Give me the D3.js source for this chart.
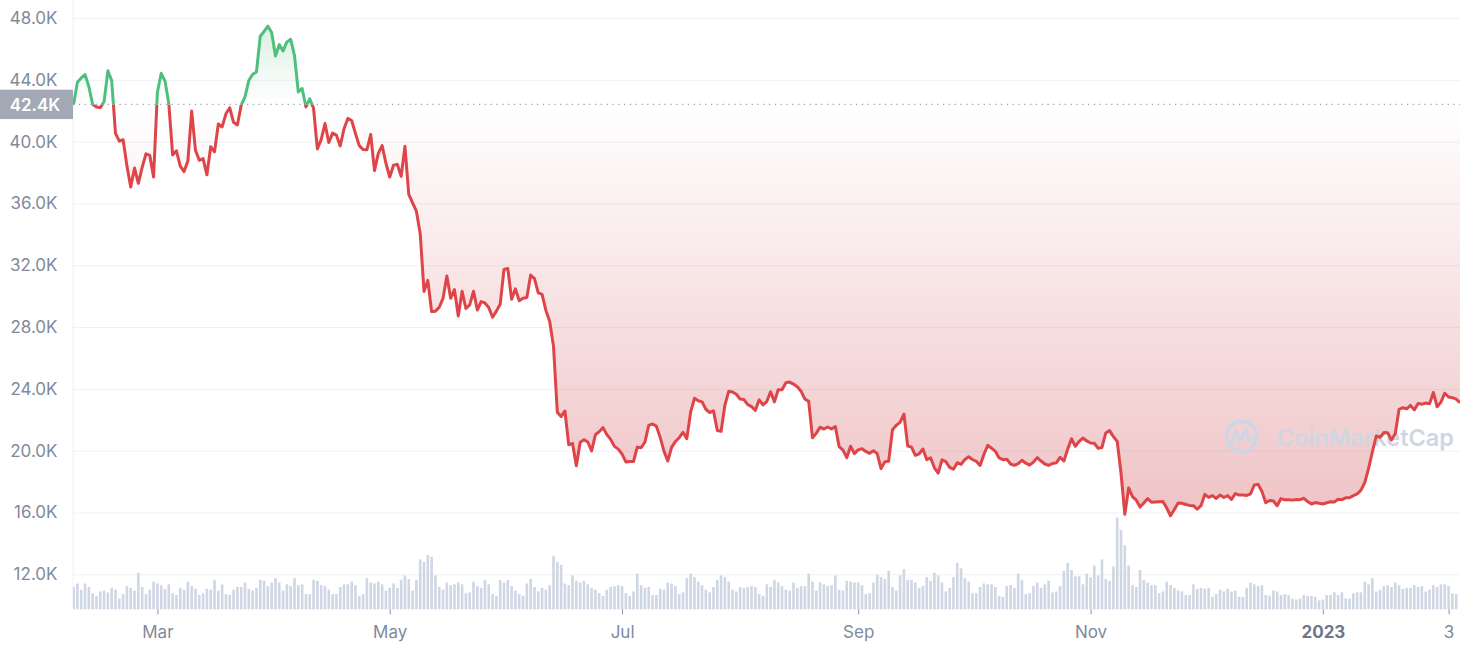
<!DOCTYPE html>
<html><head><meta charset="utf-8">
<script src="https://cdn.jsdelivr.net/npm/d3@7"></script>
<style>
html,body{margin:0;padding:0;background:#fff;}
svg{display:block;font-family:Inter,"Noto Sans",sans-serif;}
</style></head><body>
<svg id="chart" width="1460" height="650"></svg>
<script>
// ---------- DATA (BTC daily close in USD thousands, daily volume in USD billions) ----------
const startDate = "2022-02-06"; // date of first daily value
const priceFeb22 = [42.41,43.84,44.12,44.34,43.57,42.41,42.24,42.20,42.59,44.58,43.96,40.54,40.03,40.12,38.43,37.07,38.29,37.30,38.33,39.21,39.11,37.71,43.19];
const priceMar22 = [44.42,43.92,42.45,39.14,39.40,38.42,38.06,38.74,41.98,39.44,38.79,38.90,37.85,39.67,39.34,41.14,40.95,41.80,42.19,41.25,41.08,42.36,42.89,43.96,44.35,44.50,46.82,47.13,47.47,47.06,45.54];
const priceApr22 = [46.28,45.87,46.45,46.62,45.56,43.21,43.44,42.25,42.77,42.16,39.53,40.13,41.17,39.94,40.55,40.42,39.72,40.83,41.50,41.37,40.53,39.74,39.49,39.47,40.46,38.12,39.24,39.74,38.60,37.71];
const priceMay22 = [38.47,38.53,37.75,39.70,36.58,36.04,35.50,34.06,30.30,31.02,29.00,29.03,29.28,29.86,31.30,29.86,30.42,28.72,30.31,29.20,29.43,30.32,29.10,29.65,29.56,29.27,28.63,29.03,29.47,31.73,31.79];
const priceJun22 = [29.80,30.47,29.70,29.86,29.91,31.37,31.13,30.21,30.11,29.08,28.36,26.76,22.49,22.21,22.57,20.38,20.47,19.02,20.55,20.71,20.56,19.99,21.03,21.23,21.49,21.04,20.73,20.28,20.10,19.78];
const priceJul22 = [19.27,19.30,19.30,20.23,20.19,20.55,21.64,21.73,21.59,20.86,19.97,19.33,20.21,20.59,20.84,21.19,20.78,22.49,23.39,23.23,23.16,22.68,22.47,22.58,21.31,21.25,22.95,23.84,23.80,23.65,23.34];
const priceAug22 = [23.31,22.98,22.85,22.61,23.29,22.96,23.18,23.81,23.16,23.95,23.94,24.40,24.44,24.31,24.14,23.85,23.34,23.19,20.83,21.14,21.52,21.40,21.53,21.40,21.56,20.26,20.04,19.55,20.29,19.81,20.05];
const priceSep22 = [20.13,19.95,19.83,20.00,19.80,18.84,19.29,19.32,21.36,21.65,21.83,22.37,20.30,20.23,19.70,19.80,20.11,19.42,19.54,18.89,18.55,19.41,19.29,18.92,18.80,19.22,19.11,19.43,19.60,19.43];
const priceOct22 = [19.31,19.04,19.75,20.34,20.16,19.96,19.53,19.42,19.45,19.14,19.05,19.16,19.38,19.19,19.07,19.26,19.55,19.33,19.14,19.05,19.17,19.21,19.57,19.33,20.10,20.77,20.29,20.60,20.82,20.63,20.50];
const priceNov22 = [20.48,20.15,20.21,21.15,21.30,20.91,20.60,18.54,15.88,17.59,17.03,16.80,16.35,16.62,16.90,16.66,16.68,16.70,16.71,16.29,15.79,16.19,16.61,16.60,16.52,16.46,16.44,16.22,16.44,17.17];
const priceDec22 = [16.98,17.09,16.91,17.13,16.97,17.09,16.84,17.22,17.13,17.13,17.10,17.21,17.78,17.82,17.36,16.63,16.78,16.74,16.44,16.90,16.82,16.83,16.80,16.84,16.83,16.92,16.71,16.55,16.64,16.60,16.55];
const priceJan23 = [16.63,16.69,16.68,16.85,16.83,16.95,16.95,17.09,17.20,17.45,17.94,18.85,19.93,20.95,20.87,21.17,21.16,20.69,21.09,22.68,22.78,22.71,22.93,22.64,23.06,23.01,23.08,23.03,23.77,22.84,23.14];
const priceFeb23 = [23.72,23.47,23.43,23.33,23.10];

const volFeb22 = [16,25,29,22,29,25,18,15,20,21,19,24,22,12,17,26,24,21,41,25,17,22,31];
const volMar22 = [29,27,23,28,18,16,24,22,31,26,23,16,18,23,22,33,21,28,17,16,22,25,25,30,23,21,24,33,32,26,30];
const volApr22 = [35,30,21,28,26,35,27,28,17,17,33,32,27,26,22,17,17,25,28,28,31,27,15,17,35,30,29,31,28,21];
const volMay22 = [24,29,24,33,38,34,21,33,56,53,61,59,38,25,22,30,27,28,30,28,18,19,31,26,24,33,28,17,15,33,30];
const volJun22 = [33,26,21,17,15,29,34,25,20,24,22,27,60,53,50,29,27,38,32,30,32,28,24,22,18,15,22,25,26,27];
const volJul22 = [26,18,15,20,40,27,24,25,16,16,23,22,30,29,26,17,19,35,40,36,31,27,22,19,25,33,38,36,31,22,20];
const volAug22 = [25,24,25,26,25,17,15,28,25,33,30,26,22,21,30,24,26,26,40,31,21,30,28,26,27,38,22,21,32,31,30];
const volSep22 = [30,27,17,18,30,39,36,34,43,25,21,38,45,33,33,30,24,26,36,32,41,38,30,20,24,36,52,46,35,31];
const volOct22 = [18,18,25,29,28,28,25,15,14,26,27,24,40,33,17,18,26,30,24,28,32,19,20,26,43,52,44,37,37,28,40];
const volNov22 = [36,49,38,56,34,32,48,103,89,72,49,27,25,44,33,30,27,27,18,20,31,27,24,21,20,16,16,28,23,24];
const volDec22 = [23,24,14,17,22,20,23,20,21,14,14,24,30,28,26,27,16,15,21,20,16,17,16,12,11,12,16,15,15,14,10];
const volJan23 = [11,16,16,19,16,19,12,12,18,19,19,31,28,35,20,22,26,27,25,30,27,23,24,24,27,25,26,20,22,27,25];
const volFeb23 = [28,28,26,18,17];

const yTicks = [12,16,20,24,28,32,36,40,44,48];
const xTickDates = ["2022-03-01","2022-05-01","2022-07-01","2022-09-01","2022-11-01","2023-01-01","2023-02-03"];
const xTickLabels = ["Mar","May","Jul","Sep","Nov","2023","3"];
const watermark = "CoinMarketCap";

// ---------- BUILD ----------
const prices = [].concat(priceFeb22,priceMar22,priceApr22,priceMay22,priceJun22,priceJul22,priceAug22,priceSep22,priceOct22,priceNov22,priceDec22,priceJan23,priceFeb23);
const volumes = [].concat(volFeb22,volMar22,volApr22,volMay22,volJun22,volJul22,volAug22,volSep22,volOct22,volNov22,volDec22,volJan23,volFeb23);
const parse = d3.timeParse("%Y-%m-%d");
const start = parse(startDate);
// close value plotted at end of its day, volume bar at start of its day
const priceData = prices.map((v,i)=>({date:d3.timeDay.offset(start,i+1), v}));
const volData = volumes.map((v,i)=>({date:d3.timeDay.offset(start,i), v}));

const L = 73.6, R = 1460, VB = 609.3;
const x = d3.scaleTime().domain([priceData[0].date, priceData[priceData.length-1].date]).range([L, R]);
const y = d3.scaleLinear().domain([9.735, 49.165]).range([VB, 0]);
const yVol = d3.scaleLinear().domain([0, 120]).range([VB, VB-107]);

const svg = d3.select("#chart");
const defs = svg.append("defs");
const yBase = y(prices[0]);
defs.append("clipPath").attr("id","plotClip").append("rect").attr("x",73).attr("y",0).attr("width",R-73).attr("height",650);
defs.append("clipPath").attr("id","aboveClip").append("rect").attr("x",73).attr("y",0).attr("width",R-73).attr("height",yBase);
defs.append("clipPath").attr("id","belowClip").append("rect").attr("x",73).attr("y",yBase).attr("width",R-73).attr("height",650-yBase);

const gRed = defs.append("linearGradient").attr("id","gRed").attr("gradientUnits","userSpaceOnUse")
  .attr("x1",0).attr("x2",0).attr("y1",yBase).attr("y2",y(d3.min(prices)));
gRed.append("stop").attr("offset",0).attr("stop-color","#ca373e").attr("stop-opacity",0.0);
gRed.append("stop").attr("offset",1).attr("stop-color","#ca373e").attr("stop-opacity",0.3);
const gGreen = defs.append("linearGradient").attr("id","gGreen").attr("gradientUnits","userSpaceOnUse")
  .attr("x1",0).attr("x2",0).attr("y1",y(d3.max(prices))).attr("y2",yBase);
gGreen.append("stop").attr("offset",0).attr("stop-color","#5abe82").attr("stop-opacity",0.22);
gGreen.append("stop").attr("offset",1).attr("stop-color","#5abe82").attr("stop-opacity",0.0);

// Y axis with gridlines
const yAxis = d3.axisLeft(y).tickValues(yTicks).tickFormat(d=>d.toFixed(1)+"K").tickSize(-(R-73)).tickPadding(15.5);
const gy = svg.append("g").attr("transform","translate(73,0)").call(yAxis);
gy.select(".domain").remove();
gy.selectAll(".tick line").attr("stroke","#eff1f5").attr("stroke-width",1);
gy.selectAll(".tick text").attr("fill","#808a9d").attr("font-size",17).attr("font-family","Inter, sans-serif");
svg.append("line").attr("x1",73).attr("x2",73).attr("y1",0).attr("y2",VB).attr("stroke","#eff1f5");

// volume bars
svg.append("g").attr("clip-path","url(#plotClip)").selectAll("rect").data(volData).join("rect")
  .attr("x",d=>x(d.date)-1.3).attr("width",2.6)
  .attr("y",d=>yVol(d.v)).attr("height",d=>VB-yVol(d.v))
  .attr("fill","#cfd6e4");

// areas
const area = d3.area().x(d=>x(d.date)).y0(yBase).y1(d=>y(d.v));
svg.append("path").datum(priceData).attr("d",area).attr("fill","url(#gRed)").attr("clip-path","url(#belowClip)");
svg.append("path").datum(priceData).attr("d",area).attr("fill","url(#gGreen)").attr("clip-path","url(#aboveClip)");

// watermark
const wm = svg.append("g");
wm.append("circle").attr("cx",1241.5).attr("cy",436.5).attr("r",15).attr("fill","none").attr("stroke","#cfd6e3").attr("stroke-width",3.8);
wm.append("path").attr("d","M1231.5,443 L1236,430.5 L1240.5,441 L1245.5,429.5 L1249,440 L1253,438")
  .attr("fill","none").attr("stroke","#cfd6e3").attr("stroke-width",3.6).attr("stroke-linejoin","round").attr("stroke-linecap","round");
wm.append("text").attr("x",1454).attr("y",445.5).attr("text-anchor","end").attr("font-size",23.5).attr("font-weight",600)
  .attr("fill","#cfd6e3").text(watermark);

// baseline dotted
svg.append("line").attr("x1",73).attr("x2",R).attr("y1",yBase).attr("y2",yBase)
  .attr("stroke","#9aa3b5").attr("stroke-width",1.3).attr("stroke-dasharray","1.3,4.5");

// price line
const line = d3.line().x(d=>x(d.date)).y(d=>y(d.v));
svg.append("path").datum(priceData).attr("d",line).attr("fill","none").attr("stroke","#de4448")
  .attr("stroke-width",3).attr("stroke-linejoin","round").attr("clip-path","url(#belowClip)");
svg.append("path").datum(priceData).attr("d",line).attr("fill","none").attr("stroke","#4fbf7e")
  .attr("stroke-width",3).attr("stroke-linejoin","round").attr("clip-path","url(#aboveClip)");

// x axis
const xAxis = d3.axisBottom(x).tickValues(xTickDates.map(parse)).tickFormat((d,i)=>xTickLabels[i]).tickSize(5).tickPadding(11.5);
const gx = svg.append("g").attr("transform",`translate(0,${VB})`).call(xAxis);
gx.select(".domain").remove();
gx.selectAll(".tick line").attr("stroke","#8a94a6").attr("stroke-width",1);
gx.selectAll(".tick text").attr("font-size",17).attr("font-family","Inter, sans-serif")
  .attr("font-weight",(d,i)=>xTickLabels[i]==="2023"?700:400)
  .attr("fill",(d,i)=>xTickLabels[i]==="2023"?"#6c778b":"#808a9d");

// reference (first close) badge
svg.append("rect").attr("x",0).attr("y",yBase-14.7).attr("width",73).attr("height",29.4).attr("fill","#a2a8b6");
svg.append("text").attr("x",35).attr("y",yBase+6.3).attr("text-anchor","middle").attr("fill","#fff")
  .attr("font-size",17).attr("font-weight",600).text((prices[0]).toFixed(1)+"K");
</script>
</body></html>
